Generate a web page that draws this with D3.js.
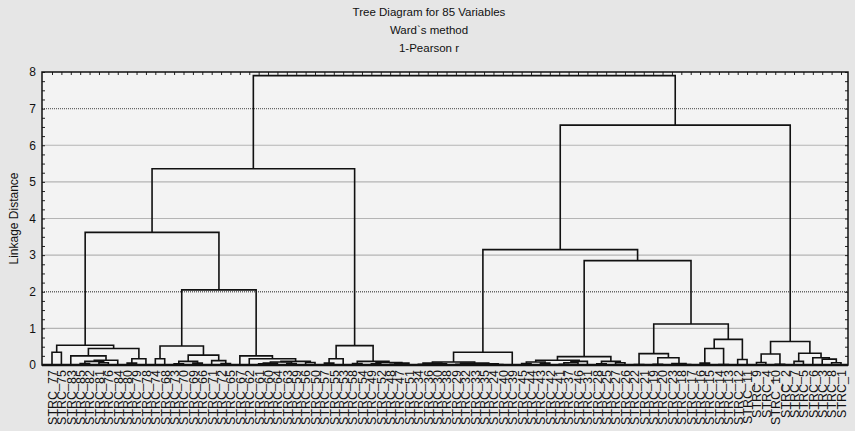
<!DOCTYPE html>
<html><head><meta charset="utf-8">
<script src="https://cdn.jsdelivr.net/npm/d3@7"></script>
<style>
html,body{margin:0;padding:0;background:#e6e6e6;}
svg{display:block;}
text{font-family:"Liberation Sans",Arial,sans-serif;fill:#111;}
</style></head><body>
<svg id="chart" width="855" height="431"></svg>
<script>
// ---- data ----
const titleLines = ["Tree Diagram for 85  Variables", "Ward`s method", "1-Pearson r"];
const yAxisTitle = "Linkage Distance";
const yTickValues = [0,1,2,3,4,5,6,7,8];
// leaf order, left to right (STRC_ number)
const leafNumbers = [77,75,83,85,82,81,76,84,80,79,78,74,68,73,70,69,66,71,72,65,67,62,61,60,64,63,59,56,50,57,55,53,58,54,49,52,48,47,51,
  34,36,30,38,29,32,33,35,24,40,39,45,44,43,42,41,37,46,31,28,25,27,26,
  22,21,19,20,23,18,17,16,15,14,13,12,11,9,4,10,2,7,5,6,3,8,1];
// merges: [name, left, right, linkage distance]; numbers = leaf positions, strings = earlier merges
const merges = [
  ["b01",0,1,0.35],["b34",3,4,0.04],["b56",5,6,0.06],["b36","b34","b56",0.10],["b37","b36",7,0.13],["b27",2,"b37",0.25],
  ["b89",8,9,0.05],["b810","b89",10,0.17],["B2","b27","b810",0.45],["B","b01","B2",0.54],
  ["d1112",11,12,0.17],["d1314",13,14,0.03],["d1516",15,16,0.05],["d1316","d1314","d1516",0.10],
  ["d1819",18,19,0.04],["d1719",17,"d1819",0.12],["dR","d1316","d1719",0.27],["D","d1112","dR",0.52],
  ["t2223",22,23,0.03],["t2224","t2223",24,0.05],["t2526",25,26,0.04],["T","t2224","t2526",0.08],["U",27,28,0.07],
  ["S","T","U",0.10],["R",21,"S",0.17],["F",20,"R",0.25],["C","D","F",2.05],["A","B","C",3.62],
  ["e2930",29,30,0.05],["eL","e2930",31,0.17],["e3233",32,33,0.04],["e3435",34,35,0.03],["e3637",36,37,0.02],
  ["e3638","e3637",38,0.05],["e3438","e3435","e3638",0.07],["eR","e3233","e3438",0.10],["E","eL","eR",0.53],
  ["Lm","A","E",5.36],
  ["i3940",39,40,0.02],["i4142",41,42,0.03],["i3942","i3940","i4142",0.05],["i4344",43,44,0.02],["i4546",45,46,0.02],
  ["i4748",47,48,0.01],["i4548","i4546","i4748",0.03],["i4348","i4344","i4548",0.05],["iL","i3942","i4348",0.08],["I","iL",49,0.35],
  ["k5051",50,51,0.04],["k5253",52,53,0.05],["k5053","k5051","k5253",0.08],["k5455",54,55,0.02],["k5456","k5455",56,0.06],
  ["k5457","k5456",57,0.10],["kA","k5053","k5457",0.13],["k5859",58,59,0.03],["k6061",60,61,0.06],["kB","k5859","k6061",0.10],
  ["K","kA","kB",0.23],
  ["n6263",62,63,0.01],["n6465",64,65,0.02],["n6768",67,68,0.01],["n6668",66,"n6768",0.04],["n6468","n6465","n6668",0.20],
  ["N","n6263","n6468",0.31],
  ["p6970",69,70,0.05],["p7172",71,72,0.01],["P","p6970","p7172",0.45],["Q",73,74,0.15],["O","P","Q",0.70],
  ["M","N","O",1.12],["J","K","M",2.85],["G","I","J",3.15],
  ["h7576",75,76,0.07],["h7778",77,78,0.02],["hL","h7576","h7778",0.30],["h7980",79,80,0.10],["h8384",83,84,0.06],
  ["h8284",82,"h8384",0.16],["h8184",81,"h8284",0.20],["hR","h7980","h8184",0.32],["H","hL","hR",0.64],
  ["Rm","G","H",6.55],["root","Lm","Rm",7.90]
];

// ---- layout ----
const W = 855, H = 431;
const plot = {left:42, right:848, top:72, bottom:365};
const svg = d3.select("#chart");
svg.append("rect").attr("width",W).attr("height",H).attr("fill","#e6e6e6");
svg.append("rect").attr("x",plot.left).attr("y",plot.top).attr("width",plot.right-plot.left).attr("height",plot.bottom-plot.top).attr("fill","#f3f3f3");

const x = d3.scalePoint().domain(d3.range(leafNumbers.length)).range([52, 841]);
const y = d3.scaleLinear().domain([0,8]).range([plot.bottom, plot.top]);

// gridlines
[1,3,4,5,6].forEach(v=>{
  svg.append("line").attr("x1",plot.left).attr("x2",plot.right).attr("y1",y(v)).attr("y2",y(v))
    .attr("stroke","#b4b4b4").attr("stroke-width",1.2);
});
[2,7].forEach(v=>{
  svg.append("line").attr("x1",plot.left).attr("x2",plot.right).attr("y1",y(v)).attr("y2",y(v))
    .attr("stroke","#666").attr("stroke-width",1.3).attr("stroke-dasharray","1,1");
});

// dendrogram
const nodes = {};
function pos(c){ return typeof c === "number" ? {x:x(c), h:0} : nodes[c]; }
const g = svg.append("g").attr("fill","none").attr("stroke","#111").attr("stroke-width",1.6);
merges.forEach(([name,a,b,h])=>{
  const pa = pos(a), pb = pos(b);
  nodes[name] = {x:(pa.x+pb.x)/2, h:h};
  g.append("path").attr("d",
    `M${pa.x},${y(pa.h)}V${y(h)}H${pb.x}V${y(pb.h)}`);
});

// axes: left (with labels), right, top ticks
const minorTicks = d3.range(0,8.001,0.25);
const yAxis = d3.axisLeft(y).tickValues(minorTicks).tickSizeInner(-3).tickSizeOuter(0)
  .tickFormat(d=> yTickValues.includes(d) ? d : "");
const ya = svg.append("g").attr("transform",`translate(${plot.left},0)`).call(yAxis);
ya.select(".domain").remove();
ya.selectAll("line").attr("stroke","#222");
ya.selectAll("text").attr("x",-6).attr("font-size","12px").attr("fill","#111").style("font-family","'Liberation Sans',Arial,sans-serif");

const yAxisR = d3.axisRight(y).tickValues(minorTicks).tickSizeInner(-3).tickSizeOuter(0).tickFormat("");
const yr = svg.append("g").attr("transform",`translate(${plot.right},0)`).call(yAxisR);
yr.select(".domain").remove(); yr.selectAll("line").attr("stroke","#222");

const xTop = d3.axisTop(x).tickSizeInner(-3).tickSizeOuter(0).tickFormat("");
const xt = svg.append("g").attr("transform",`translate(0,${plot.top})`).call(xTop);
xt.select(".domain").remove(); xt.selectAll("line").attr("stroke","#222");

// frame
svg.append("rect").attr("x",plot.left).attr("y",plot.top).attr("width",plot.right-plot.left).attr("height",plot.bottom-plot.top)
  .attr("fill","none").attr("stroke","#111").attr("stroke-width",1.5);
svg.append("line").attr("x1",plot.left).attr("x2",plot.right).attr("y1",plot.bottom).attr("y2",plot.bottom)
  .attr("stroke","#111").attr("stroke-width",2.5);

// leaf labels
const xAxis = d3.axisBottom(x).tickSize(0).tickFormat(i=>"STRC_"+leafNumbers[i]);
const xa = svg.append("g").attr("transform",`translate(0,${plot.bottom})`).call(xAxis);
xa.select(".domain").remove();
xa.selectAll("text").attr("transform","rotate(-90)").attr("text-anchor","end")
  .attr("x",-5).attr("y",0).attr("dy","0.35em").attr("font-size","12.5px").attr("fill","#111")
  .style("font-family","'Liberation Sans',Arial,sans-serif");

// titles
titleLines.forEach((t,i)=>{
  svg.append("text").attr("x",429).attr("y",16+i*18).attr("text-anchor","middle").attr("font-size","11.5px").text(t);
});
svg.append("text").attr("transform",`translate(18,${(plot.top+plot.bottom)/2}) rotate(-90)`)
  .attr("text-anchor","middle").attr("font-size","12px").text(yAxisTitle);
</script></body></html>
